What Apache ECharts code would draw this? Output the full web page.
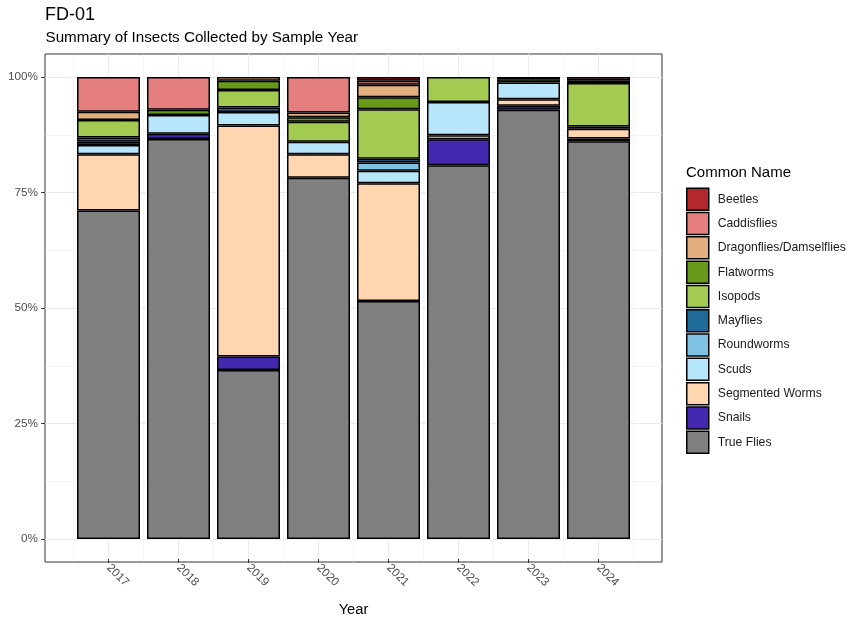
<!DOCTYPE html>
<html><head><meta charset="utf-8">
<script src="https://cdn.jsdelivr.net/npm/echarts@6/dist/echarts.min.js"></script>
<style>html,body{margin:0;padding:0;background:#fff}#c{width:861px;height:622px}</style>
</head><body><div id="c"></div>
<script>
// ---- data (percent of insects collected per sample year) ----
const years = ['2017', '2018', '2019', '2020', '2021', '2022', '2023', '2024'];
const yTicks = [0, 25, 50, 75, 100];
const beetles     = [0,    0,    0,    0,    0.8,  0,    0,    0];
const caddisflies = [7.5,  7.1,  0,    7.7,  0.9,  0,    0.5,  0];
const dragonflies = [1.8,  0,    0.8,  1.0,  2.7,  0,    0,    0.7];
const flatworms   = [0,    1.1,  2.0,  1.0,  2.6,  0,    0.7,  0.6];
const isopods     = [3.8,  0,    3.8,  4.3,  10.7, 5.4,  0,    9.4];
const mayflies    = [0.9,  0,    1.0,  0,    0.8,  0,    0,    0.5];
const roundworms  = [0.7,  0,    0,    0,    1.8,  0,    0,    0];
const scuds       = [2.0,  4.1,  2.9,  2.7,  2.7,  7.2,  3.6,  0];
const segmented   = [12.2, 0,    50.0, 5.1,  25.5, 0.9,  1.4,  2.1];
const snails      = [0,    1.1,  2.9,  0,    0,    5.6,  0.9,  0.6];
const trueFlies   = [71.1, 86.6, 36.6, 78.2, 51.5, 80.9, 92.9, 86.1];

const names = ['Beetles', 'Caddisflies', 'Dragonflies/Damselflies', 'Flatworms', 'Isopods',
  'Mayflies', 'Roundworms', 'Scuds', 'Segmented Worms', 'Snails', 'True Flies'];
const colors = ['#B3282D', '#E57E7E', '#E4AF7E', '#689A1A', '#A3CB52',
  '#1E6A99', '#80C2E3', '#B7E6FB', '#FFD6B0', '#4428B0', '#808080'];
const values = [beetles, caddisflies, dragonflies, flatworms, isopods,
  mayflies, roundworms, scuds, segmented, snails, trueFlies];

const FONT = "'Liberation Sans', Arial, Helvetica, sans-serif";
const chart = echarts.init(document.getElementById('c'), null, {renderer: 'canvas'});

const series = [];
for (let i = names.length - 1; i >= 0; i--) {
  series.push({
    name: names[i], type: 'bar', stack: 'total', xAxisIndex: 0, yAxisIndex: 0,
    barWidth: '90%',
    data: values[i].map(v => (v > 0 ? v : null)),
    itemStyle: {color: colors[i], borderColor: '#000', borderWidth: 1.5},
    emphasis: {disabled: true}
  });
}

const hiddenVal = (g) => ({type: 'value', gridIndex: g, min: 0, max: 1, show: false});

chart.setOption({
  animation: false,
  backgroundColor: '#fff',
  textStyle: {fontFamily: FONT},
  title: [
    {text: 'FD-01', left: 45, top: 6, padding: 0,
      textStyle: {fontSize: 18, fontWeight: 'normal', color: '#000', fontFamily: FONT}},
    {text: 'Summary of Insects Collected by Sample Year', left: 45.5, top: 30.5, padding: 0,
      textStyle: {fontSize: 15.2, fontWeight: 'normal', color: '#000', fontFamily: FONT}},
    {text: 'Common Name', left: 686, top: 165, padding: 0,
      textStyle: {fontSize: 15, fontWeight: 'normal', color: '#000', fontFamily: FONT}}
  ],
  legend: {
    orient: 'vertical', left: 686, top: 187.5, padding: 0,
    itemWidth: 22, itemHeight: 22, itemGap: 0.8, icon: 'rect',
    data: names, selectedMode: false,
    itemStyle: {borderColor: '#000', borderWidth: 1.5},
    textStyle: {fontSize: 12.2, color: '#1a1a1a', fontFamily: FONT, padding: [0, 0, 0, 4]}
  },
  grid: [
    {left: 73.5, top: 77, width: 560, height: 462},   // bars
    {left: 45, top: 77, width: 617, height: 462},     // horizontal grid lines + y labels
    {left: 73.5, top: 54, width: 560, height: 508},   // minor vertical lines
    {left: 108.5, top: 54, width: 490, height: 508},  // major vertical lines + x labels
    {left: 45, top: 54, width: 617, height: 508, show: true, borderColor: '#333', borderWidth: 1, backgroundColor: 'transparent'}
  ],
  xAxis: [
    {type: 'category', gridIndex: 0, data: years, show: false},
    hiddenVal(1),
    {type: 'category', gridIndex: 2, data: years, boundaryGap: true,
      axisLine: {show: false}, axisTick: {show: false}, axisLabel: {show: false},
      splitLine: {show: true, interval: 0, lineStyle: {color: '#EBEBEB', width: 0.5}}},
    {type: 'category', gridIndex: 3, data: years, boundaryGap: false,
      axisLine: {show: false},
      axisTick: {show: true, length: 4, interval: 0, lineStyle: {color: '#333', width: 1}},
      axisLabel: {rotate: -45, margin: 7, interval: 0, color: '#4D4D4D', fontSize: 11.7, fontFamily: FONT},
      splitLine: {show: true, interval: 0, lineStyle: {color: '#EBEBEB', width: 1}},
      name: 'Year', nameLocation: 'middle', nameGap: 43,
      nameTextStyle: {fontSize: 14.7, color: '#000', fontFamily: FONT}},
    hiddenVal(4)
  ],
  yAxis: [
    {type: 'value', gridIndex: 0, min: 0, max: 100, show: false},
    {type: 'value', gridIndex: 1, min: yTicks[0], max: yTicks[yTicks.length - 1], interval: 25,
      axisLine: {show: false},
      axisTick: {show: true, length: 4, lineStyle: {color: '#333', width: 1}},
      axisLabel: {formatter: '{value}%', margin: 7, color: '#4D4D4D', fontSize: 11.7, fontFamily: FONT},
      splitLine: {show: true, lineStyle: {color: '#EBEBEB', width: 1}},
      minorTick: {show: false, splitNumber: 2},
      minorSplitLine: {show: true, lineStyle: {color: '#EBEBEB', width: 0.5}}},
    hiddenVal(2), hiddenVal(3), hiddenVal(4)
  ],
  series: series
});
</script>
</body></html>
